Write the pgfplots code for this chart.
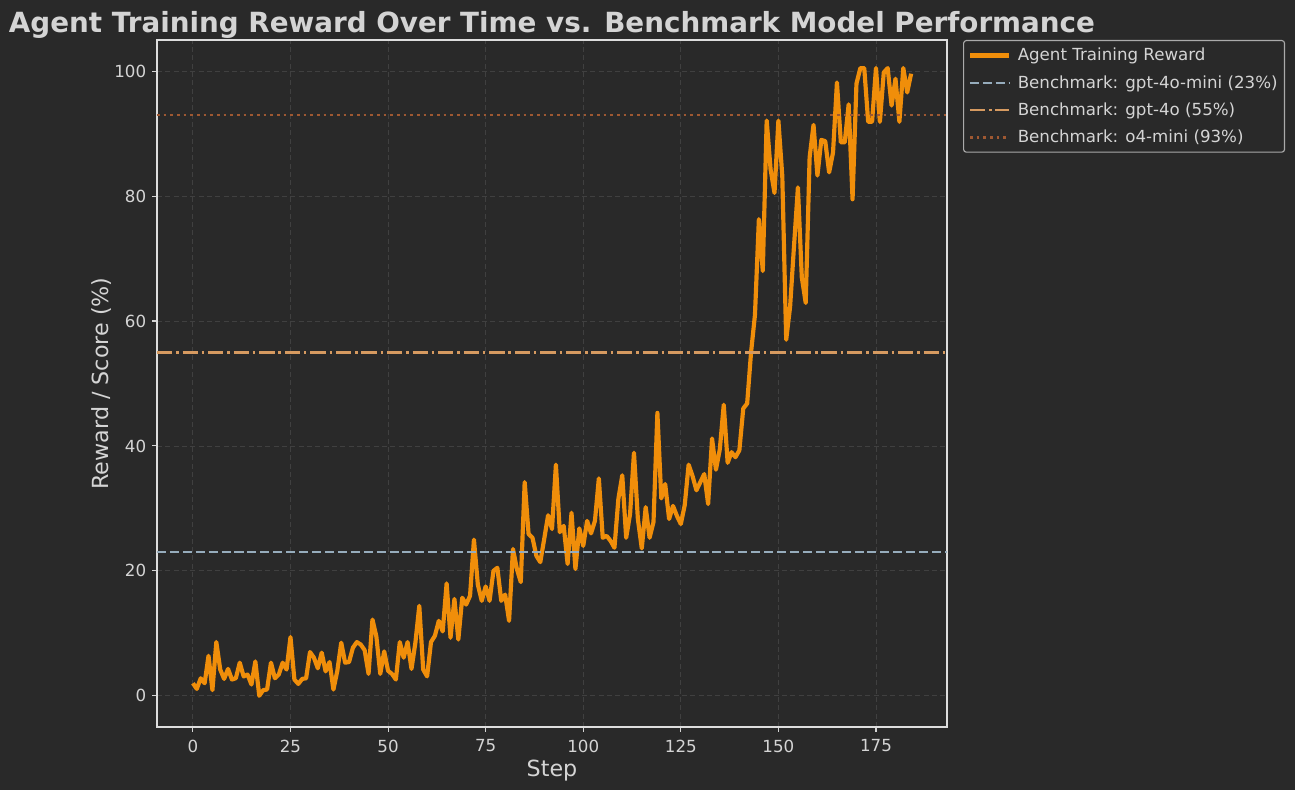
\documentclass[border=0pt]{standalone}
\usepackage{fontspec}
\setmainfont{DejaVu Sans}
\usepackage{pgfplots}
\usepackage{pgfplotstable}
\pgfplotsset{compat=1.18}

\definecolor{bg}{RGB}{41,41,41}
\definecolor{txt}{RGB}{212,212,212}
\definecolor{agent}{RGB}{240,142,10}
\definecolor{mini}{RGB}{150,172,188}
\definecolor{gptfo}{RGB}{214,154,96}
\definecolor{ofour}{RGB}{158,88,50}
\definecolor{gridc}{RGB}{64,64,64}
\definecolor{legframe}{RGB}{170,170,170}

% step, reward (%)
\pgfplotstableread{
x y
0 2.0
1 1.1
2 2.8
3 2.0
4 6.4
5 0.9
6 8.6
7 4.2
8 2.7
9 4.3
10 2.6
11 2.8
12 5.3
13 3.1
14 3.4
15 1.8
16 5.5
17 0.0
18 0.9
19 1.0
20 5.3
21 2.8
22 3.4
23 5.3
24 4.2
25 9.4
26 2.6
27 1.9
28 2.7
29 2.8
30 7.0
31 6.1
32 4.4
33 6.9
34 3.9
35 5.4
36 1.0
37 4.0
38 8.5
39 5.3
40 5.4
41 7.7
42 8.6
43 8.2
44 7.3
45 3.5
46 12.2
47 9.5
48 3.5
49 7.1
50 4.0
51 3.5
52 2.6
53 8.6
54 6.1
55 8.6
56 4.3
57 8.5
58 14.4
59 4.2
60 3.1
61 8.6
62 9.6
63 12.0
64 10.3
65 18.0
66 9.3
67 15.5
68 9.0
69 15.7
70 14.6
71 16.0
72 25.0
73 17.8
74 15.2
75 17.5
76 15.2
77 20.0
78 20.5
79 15.2
80 16.2
81 12.0
82 23.5
83 20.3
84 18.2
85 34.2
86 25.9
87 25.3
88 22.4
89 21.4
90 25.1
91 28.9
92 26.7
93 37.0
94 26.2
95 27.2
96 21.1
97 29.3
98 20.3
99 26.8
100 24.0
101 28.0
102 26.0
103 28.0
104 34.8
105 25.3
106 25.6
107 24.8
108 23.7
109 31.5
110 35.3
111 25.3
112 29.1
113 38.9
114 28.3
115 23.6
116 30.2
117 25.3
118 27.8
119 45.3
120 31.6
121 33.9
122 28.3
123 30.4
124 28.8
125 27.5
126 30.5
127 37.0
128 35.2
129 32.9
130 34.2
131 35.5
132 30.7
133 41.2
134 36.2
135 39.5
136 46.6
137 37.3
138 39.0
139 38.2
140 39.3
141 46.0
142 46.8
143 55.0
144 61.0
145 76.3
146 68.0
147 92.1
148 84.3
149 80.5
150 92.1
151 83.2
152 57.0
153 62.3
154 72.0
155 81.4
156 67.0
157 62.9
158 86.2
159 91.4
160 83.3
161 89.0
162 88.8
163 83.8
164 87.0
165 98.2
166 88.6
167 88.6
168 94.7
169 79.5
170 98.0
171 100.5
172 100.5
173 91.9
174 91.9
175 100.5
176 91.9
177 99.8
178 100.5
179 94.5
180 98.8
181 91.9
182 100.5
183 96.6
184 99.6
}\reward

\begin{document}
\begin{tikzpicture}[x=1bp,y=1bp]
  % figure background, 1295x790 px at 0.72bp per px
  \fill[bg] (-113.04,-45.36) rectangle (819.36,523.44);
  \begin{axis}[
      scale only axis,
      width=568.8bp, height=494.64bp,
      at={(0,0)}, anchor=south west,
      xmin=-9.2, xmax=193.2,
      ymin=-5, ymax=105,
      xtick={0,25,...,175},
      ytick={0,20,...,100},
      axis background/.style={fill=bg},
      axis line style={draw=txt!80!white, line width=0.8bp},
      tick style={draw=txt, line width=0.8bp},
      major tick length=3.5bp,
      tick align=outside,
      xtick pos=bottom, ytick pos=left,
      grid=major,
      grid style={gridc, dash pattern=on 3.5bp off 2.5bp, line width=0.6bp},
      ticklabel style={font=\fontsize{12bp}{14bp}\selectfont, text=txt},
      /pgf/number format/assume math mode=true,
      /pgf/number format/1000 sep={},
      xticklabel style={yshift=-2.2bp},
      yticklabel style={xshift=-0.8bp},
      xlabel={Step},
      ylabel={Reward / Score (\%)},
      label style={font=\fontsize{16bp}{19bp}\selectfont, text=txt},
      xlabel style={at={(axis description cs:0.5,-0.0714)}, anchor=base},
      ylabel style={at={(axis description cs:-0.0620,0.5)}, anchor=base},
      every axis title shift=0pt,
      title={Agent Training Reward Over Time vs. Benchmark Model Performance},
      title style={at={(axis description cs:0.5,1.0115)}, anchor=base,
        font=\bfseries\fontsize{20bp}{24bp}\selectfont, text=txt},
      legend style={at={(axis description cs:1.0203,1)}, anchor=north west,
        font=\fontsize{12bp}{14bp}\selectfont, text=txt,
        draw=legframe, fill=bg, rounded corners=2bp, line width=0.8bp,
        inner xsep=3bp, inner ysep=3.5bp, row sep=5bp,
        cells={anchor=west},
        /tikz/every odd column/.append style={column sep=3bp}},
      legend image code/.code={\draw[#1] (0bp,0bp) -- (28bp,0bp);},
    ]
    \addplot[agent, line width=3bp, line join=round] table[x=x, y=y] {\reward};
    \addlegendentry{Agent Training Reward}

    \addplot[mini, line width=1.8bp, dash pattern=on 6.5bp off 2.8bp]
      coordinates {(-9.2,23) (193.2,23)};
    \addlegendentry{Benchmark: gpt-4o-mini (23\%)}

    \addplot[gptfo, line width=1.8bp, dash pattern=on 11bp off 2.8bp on 1.8bp off 2.8bp]
      coordinates {(-9.2,55) (193.2,55)};
    \addlegendentry{Benchmark: gpt-4o (55\%)}

    \addplot[ofour, line width=2bp, dash pattern=on 2bp off 2.8bp]
      coordinates {(-9.2,93) (193.2,93)};
    \addlegendentry{Benchmark: o4-mini (93\%)}
  \end{axis}
\end{tikzpicture}
\end{document}
